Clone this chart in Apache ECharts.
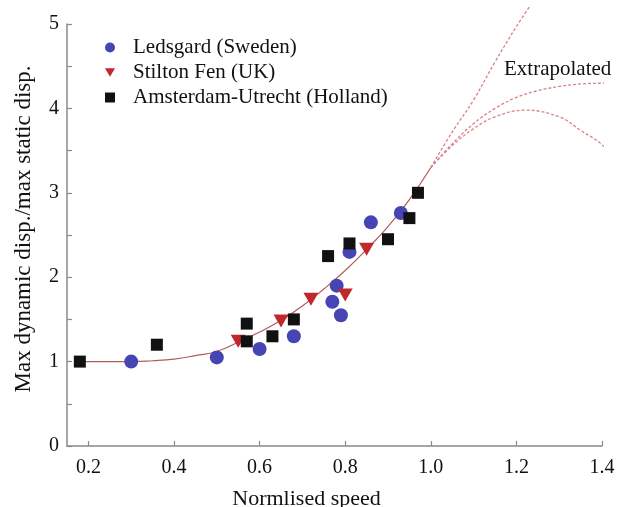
<!DOCTYPE html>
<html>
<head>
<meta charset="utf-8">
<script src="https://cdn.jsdelivr.net/npm/echarts@6/dist/echarts.min.js"></script>
<style>
  html, body { margin: 0; padding: 0; background: #fff; }
  #chart { width: 619px; height: 507px; }
</style>
</head>
<body>
<div id="chart"></div>
<script>
// Measured points: [normalised speed, max dynamic / max static displacement]
const ledsgard = [
  [0.30, 1.00], [0.50, 1.05], [0.60, 1.15], [0.68, 1.30], [0.77, 1.71],
  [0.78, 1.90], [0.79, 1.55], [0.81, 2.30], [0.86, 2.65], [0.93, 2.76]
];
const stiltonFen = [
  [0.55, 1.24], [0.65, 1.48], [0.72, 1.74], [0.80, 1.79], [0.85, 2.33]
];
const amsterdamUtrecht = [
  [0.18, 1.00], [0.36, 1.20], [0.57, 1.45], [0.57, 1.24], [0.63, 1.30],
  [0.68, 1.50], [0.76, 2.25], [0.81, 2.40], [0.90, 2.45], [0.95, 2.70],
  [0.97, 3.00]
];

// Fitted trend through the measurements
const fitCurve = [
  [0.18, 1.00], [0.30, 1.00], [0.35, 1.01], [0.40, 1.03],
  [0.45, 1.07], [0.50, 1.12], [0.55, 1.23], [0.60, 1.35], [0.65, 1.49],
  [0.70, 1.66], [0.75, 1.86], [0.80, 2.08], [0.85, 2.33], [0.90, 2.60],
  [0.95, 2.92], [1.00, 3.30]
];

// Extrapolated branches beyond normalised speed 1.0
const extrapSteep = [
  [1.00, 3.30], [1.05, 3.72], [1.10, 4.10], [1.15, 4.55], [1.20, 4.97], [1.23, 5.20]
];
const extrapLevel = [
  [1.00, 3.30], [1.05, 3.58], [1.10, 3.82], [1.15, 4.00], [1.20, 4.13],
  [1.25, 4.21], [1.30, 4.26], [1.35, 4.29], [1.40, 4.30], [1.44, 4.31]
];
const extrapFalling = [
  [1.00, 3.30], [1.05, 3.56], [1.10, 3.76], [1.15, 3.90], [1.22, 3.98],
  [1.30, 3.90], [1.35, 3.74], [1.40, 3.57], [1.44, 3.33]
];

const xTickValues = [0.2, 0.4, 0.6, 0.8, 1.0, 1.2, 1.4];

const seriesNames = ['Ledsgard (Sweden)', 'Stilton Fen (UK)', 'Amsterdam-Utrecht (Holland)'];

const serif = '"Liberation Serif", "DejaVu Serif", serif';
const axisGrey = '#8a8a8a';
const downTriangle = 'path://M0,0 L10,0 L5,8.6 Z';

const chart = echarts.init(document.getElementById('chart'), null, { renderer: 'canvas' });

function dashedBranch(data) {
  return {
    type: 'line',
    data: data,
    smooth: 0.4,
    showSymbol: false,
    clip: false,
    silent: true,
    z: 1,
    lineStyle: { color: '#d98383', width: 1.3, type: [3, 2] }
  };
}

chart.setOption({
  animation: false,
  backgroundColor: '#ffffff',
  grid: { left: 67, right: 17, top: 24, bottom: 61, containLabel: false, outerBoundsMode: 'none' },
  legend: {
    orient: 'vertical',
    left: 100,
    top: 32,
    itemWidth: 10,
    itemHeight: 10,
    itemGap: 4,
    textStyle: { fontFamily: serif, fontSize: 21, color: '#111', padding: [0, 0, 0, 13] },
    data: seriesNames
  },
  xAxis: {
    type: 'value',
    min: 0.15,
    max: 1.4,
    name: 'Normlised speed',
    nameLocation: 'middle',
    nameGap: 42,
    nameTextStyle: { fontFamily: serif, fontSize: 22, color: '#111', padding: [0, 56, 0, 0] },
    axisLine: { show: true, lineStyle: { color: axisGrey, width: 1.5 } },
    axisTick: { show: true, inside: true, length: 5, customValues: xTickValues, lineStyle: { color: axisGrey, width: 1.2 } },
    axisLabel: {
      customValues: xTickValues,
      margin: 12,
      fontFamily: serif, fontSize: 20, color: '#111',
      formatter: v => v.toFixed(1)
    },
    splitLine: { show: false }
  },
  yAxis: {
    type: 'value',
    min: 0,
    max: 5,
    interval: 0.5,
    name: 'Max dynamic disp./max static disp.',
    nameLocation: 'middle',
    nameGap: 32,
    nameTextStyle: { fontFamily: serif, fontSize: 23, color: '#111', padding: [0, 0, 0, 12] },
    axisLine: { show: true, lineStyle: { color: axisGrey, width: 1.5 } },
    axisTick: { show: true, inside: true, length: 5, lineStyle: { color: axisGrey, width: 1.2 } },
    axisLabel: {
      margin: 8,
      fontFamily: serif, fontSize: 20, color: '#111',
      formatter: v => (Math.abs(v - Math.round(v)) < 1e-9 ? String(Math.round(v)) : '')
    },
    splitLine: { show: false }
  },
  graphic: [{
    type: 'text',
    left: 504,
    top: 59,
    style: { text: 'Extrapolated', font: '21px ' + serif, fill: '#111' }
  }],
  series: [
    {
      type: 'line',
      data: fitCurve,
      smooth: true,
      showSymbol: false,
      silent: true,
      z: 1,
      lineStyle: { color: '#b55a5a', width: 1.2 }
    },
    dashedBranch(extrapSteep),
    dashedBranch(extrapLevel),
    dashedBranch(extrapFalling),
    {
      name: seriesNames[0],
      type: 'scatter',
      data: ledsgard,
      symbol: 'circle',
      symbolSize: 14,
      z: 3,
      itemStyle: { color: '#4645b3', opacity: 1 }
    },
    {
      name: seriesNames[1],
      type: 'scatter',
      data: stiltonFen,
      symbol: downTriangle,
      symbolSize: [15, 13],
      z: 4,
      itemStyle: { color: '#c0282b', opacity: 1 }
    },
    {
      name: seriesNames[2],
      type: 'scatter',
      data: amsterdamUtrecht,
      symbol: 'rect',
      symbolSize: 12,
      z: 5,
      itemStyle: { color: '#111111', opacity: 1 }
    }
  ]
});
</script>
</body>
</html>
